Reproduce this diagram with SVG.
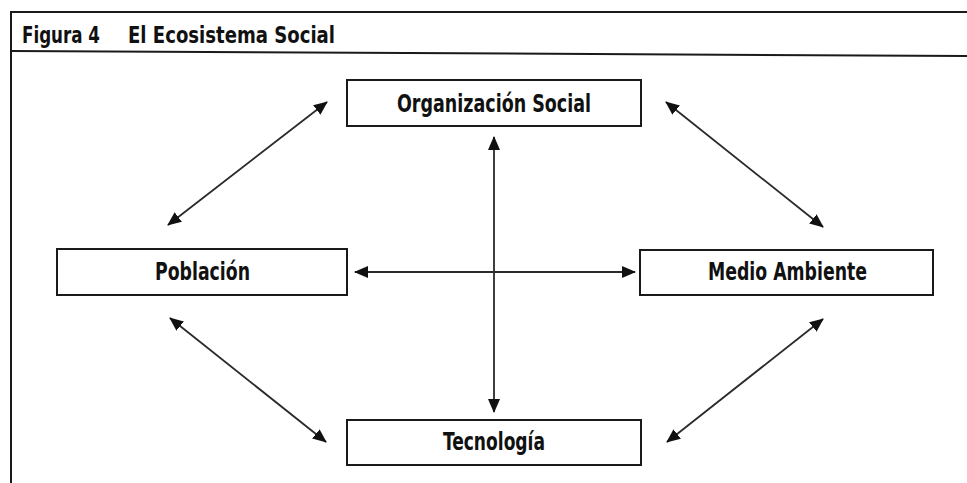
<svg xmlns="http://www.w3.org/2000/svg" width="967" height="483" viewBox="0 0 967 483">
<defs>
<style>
.frame{fill:none;stroke:#1a1a1a;stroke-width:2}
.box{fill:#fff;stroke:#1a1a1a;stroke-width:2}
.lbl{font-family:"DejaVu Sans Condensed","DejaVu Sans",sans-serif;font-weight:bold;font-size:24px;fill:#111}
.ttl{font-family:"DejaVu Sans Condensed","DejaVu Sans",sans-serif;font-weight:bold;font-size:23px;fill:#111}
.con{stroke:#2a2a2a;stroke-width:1.8;fill:none;marker-start:url(#ah);marker-end:url(#ah)}
</style>
<marker id="ah" viewBox="0 0 14 12" refX="13" refY="6" markerWidth="14" markerHeight="12" markerUnits="userSpaceOnUse" orient="auto-start-reverse">
<path d="M0,0 L14,6 L0,12 Z" fill="#111"/>
</marker>
</defs>
<rect width="967" height="483" fill="#fff"/>
<g id="frame">
<line class="frame" x1="11" y1="12" x2="967" y2="12"/>
<line class="frame" x1="11" y1="51" x2="967" y2="56"/>
<line class="frame" x1="11" y1="11" x2="11" y2="483"/>
<text class="ttl" x="22" y="43" textLength="78" lengthAdjust="spacingAndGlyphs">Figura 4</text>
<text class="ttl" x="128" y="43" textLength="207" lengthAdjust="spacingAndGlyphs">El Ecosistema Social</text>
</g>
<g id="connectors">
<line class="con" x1="494" y1="137" x2="494" y2="412"/>
<line class="con" x1="355" y1="272" x2="635" y2="272"/>
<line class="con" x1="327" y1="102" x2="168" y2="225"/>
<line class="con" x1="666" y1="102" x2="823" y2="227"/>
<line class="con" x1="170" y1="318" x2="326" y2="442"/>
<line class="con" x1="823" y1="319" x2="667" y2="442"/>
</g>
<g id="organizacion">
<rect class="box" x="347" y="80" width="294" height="46"/>
<text class="lbl" x="397" y="112" textLength="194" lengthAdjust="spacingAndGlyphs">Organización Social</text>
</g>
<g id="poblacion">
<rect class="box" x="57" y="249" width="290" height="46"/>
<text class="lbl" x="155" y="280" textLength="95" lengthAdjust="spacingAndGlyphs">Población</text>
</g>
<g id="medio">
<rect class="box" x="640" y="250" width="293" height="45"/>
<text class="lbl" x="708" y="280" textLength="159" lengthAdjust="spacingAndGlyphs">Medio Ambiente</text>
</g>
<g id="tecnologia">
<rect class="box" x="347" y="420" width="294" height="45"/>
<text class="lbl" x="443" y="450" textLength="102" lengthAdjust="spacingAndGlyphs">Tecnología</text>
</g>
</svg>
